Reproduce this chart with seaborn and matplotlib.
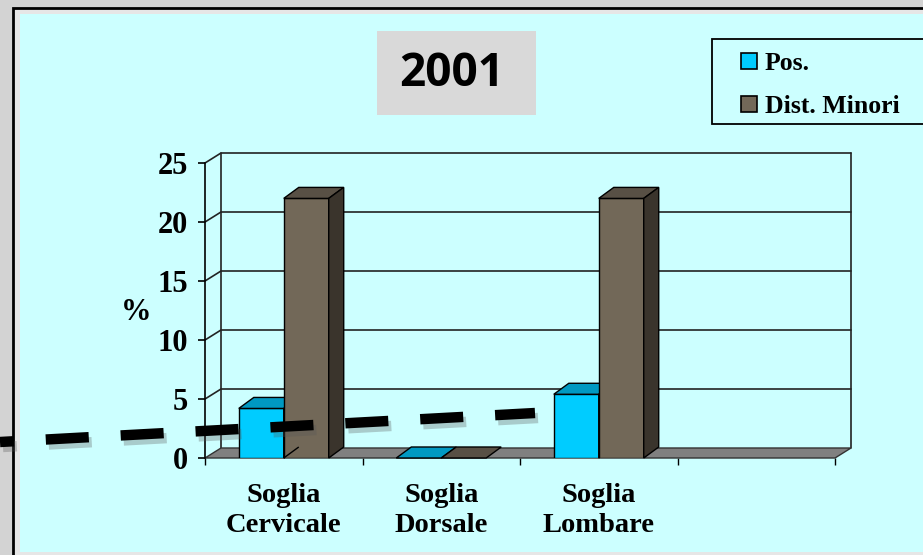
import matplotlib
matplotlib.use("Agg")
import matplotlib.pyplot as plt
from matplotlib.patches import Rectangle, Polygon
from matplotlib.lines import Line2D
from matplotlib.ticker import FixedLocator
import seaborn as sns
import pandas as pd

# ---------------- data ----------------
categories = ["Soglia\nCervicale", "Soglia\nDorsale", "Soglia\nLombare"]
series_names = ["Pos.", "Dist. Minori"]
pos_values = [4.2, 0.0, 5.4]
dist_values = [22.0, 0.0, 22.0]
y_ticks = [0, 5, 10, 15, 20, 25]
title_text = "2001"
y_label = "%"

# ---------------- style ----------------
sns.set_style("white")
plt.rcParams["font.family"] = ["Liberation Serif", "DejaVu Serif"]
plt.rcParams["lines.scale_dashes"] = False
for k in ("text.color", "axes.labelcolor", "xtick.color", "ytick.color"):
    plt.rcParams[k] = "black"

W, H = 923, 555
fig = plt.figure(figsize=(W / 100, H / 100), dpi=100)
fig.patch.set_facecolor("#d3d3d3")

def fx(px):
    return px / W

def fy(py):
    return 1 - py / H

# slide panel
fig.add_artist(Rectangle((fx(13), fy(560)), fx(930) - fx(13), fy(8) - fy(560),
                         transform=fig.transFigure, facecolor="#e6e6e6",
                         edgecolor="black", linewidth=2, zorder=0))
fig.add_artist(Rectangle((fx(20), fy(552)), fx(930) - fx(20), fy(14) - fy(552),
                         transform=fig.transFigure, facecolor="#CCFFFF",
                         edgecolor="none", zorder=0.5))

# title box
fig.add_artist(Rectangle((fx(377), fy(115)), fx(536) - fx(377), fy(31) - fy(115),
                         transform=fig.transFigure, facecolor="#D9D9D9",
                         edgecolor="none", zorder=1))
fig.text(fx(452), fy(74), title_text, ha="center", va="center", color="black",
         fontsize=33, fontweight="bold", family=["Open Sans", "DejaVu Sans"], zorder=2)

# legend box (frame drawn separately to reach the slide edge)
fig.add_artist(Rectangle((fx(712), fy(124)), fx(940) - fx(712), fy(39) - fy(124),
                         transform=fig.transFigure, facecolor="#CCFFFF",
                         edgecolor="black", linewidth=1.3, zorder=1))

# ---------------- axes ----------------
ax_left, ax_right, ax_bottom, ax_top = 205, 835, 458, 163
ax = fig.add_axes([fx(ax_left), fy(ax_bottom), fx(ax_right) - fx(ax_left),
                   fy(ax_top) - fy(ax_bottom)])
ax.set_zorder(3)
ax.patch.set_visible(False)

cyan, brown = "#00CCFF", "#726858"
df = pd.DataFrame({
    "cat": categories * 2,
    "val": pos_values + dist_values,
    "serie": [series_names[0]] * 3 + [series_names[1]] * 3,
})
sns.barplot(data=df, x="cat", y="val", hue="serie", hue_order=series_names,
            order=categories, palette=[cyan, brown], width=0.571,
            edgecolor="black", linewidth=1, saturation=1, ax=ax)
bars = list(ax.patches)

ax.set_xlim(-0.5, 3.5)
ax.set_ylim(0, 25)

px_per_x = (ax_right - ax_left) / 4.0
px_per_y = (ax_bottom - ax_top) / 25.0
# depth offsets (pixels -> data units)
DXw, DYw = 16 / px_per_x, 10 / px_per_y
DXb, DYb = 15 / px_per_x, 11 / px_per_y

# floor
ax.add_patch(Polygon([(-0.5, 0), (3.5, 0), (3.5 + DXw, DYw), (-0.5 + DXw, DYw)],
                     closed=True, facecolor="#808080", edgecolor="#333333",
                     linewidth=1, clip_on=False, zorder=1))
# back wall gridlines and side wall diagonals
for v in y_ticks:
    if v == 0:
        continue
    ax.add_line(Line2D([-0.5, -0.5 + DXw, 3.5 + DXw], [v, v + DYw, v + DYw],
                       color="#222222", linewidth=1.2, clip_on=False, zorder=0.8))
for xe in (-0.5 + DXw, 3.5 + DXw):
    ax.add_line(Line2D([xe, xe], [DYw, 25 + DYw], color="#222222",
                       linewidth=1.2, clip_on=False, zorder=0.8))

# 3D faces of bars
face_cols = {
    cyan: ("#0099C2", "#0083A8"),
    brown: ("#585045", "#3A342C"),
}
for b in bars:
    fc = b.get_facecolor()
    is_cyan = fc[2] > 0.9
    top_c, side_c = face_cols[cyan] if is_cyan else face_cols[brown]
    z = 3 if is_cyan else 4
    b.set_zorder(z)
    x0 = b.get_x()
    x1 = x0 + b.get_width()
    h = b.get_height()
    ax.add_patch(Polygon([(x0, h), (x1, h), (x1 + DXb, h + DYb), (x0 + DXb, h + DYb)],
                         closed=True, facecolor=top_c, edgecolor="black",
                         linewidth=1, clip_on=False, zorder=z + 0.1))
    if h > 0:
        ax.add_patch(Polygon([(x1, 0), (x1 + DXb, DYb), (x1 + DXb, h + DYb), (x1, h)],
                             closed=True, facecolor=side_c, edgecolor="black",
                             linewidth=1, clip_on=False, zorder=z + 0.1))

# spines / ticks
for s in ("top", "right", "bottom"):
    ax.spines[s].set_visible(False)
ax.spines["left"].set_color("black")
ax.spines["left"].set_linewidth(1.2)
ax.set_yticks(y_ticks)
ax.set_yticklabels([str(t) for t in y_ticks])
ax.tick_params(axis="y", left=True, length=5, width=1.2, color="black", pad=7,
               labelsize=22)
ax.set_xticks(range(len(categories)))
ax.set_xticklabels(categories, linespacing=1.25)
ax.xaxis.set_minor_locator(FixedLocator([-0.5, 0.5, 1.5, 2.5, 3.5]))
ax.tick_params(axis="x", which="major", length=0, pad=18, labelsize=20.5)
ax.tick_params(axis="x", which="minor", bottom=True, length=5, width=1, color="black")
for lab in ax.get_xticklabels() + ax.get_yticklabels():
    lab.set_fontweight("bold")
ax.set_xlabel("")
ax.set_ylabel(y_label, rotation=0, fontsize=22, fontweight="bold")
ax.yaxis.label.set_va("center")
ax.yaxis.label.set_ha("center")
ax.yaxis.set_label_coords((136 - ax_left) / (ax_right - ax_left),
                          (ax_bottom - 312) / (ax_bottom - ax_top))

# legend
handles, labels = ax.get_legend_handles_labels()
for hnd in handles:
    hnd.set_edgecolor("black")
    hnd.set_linewidth(1.2)
leg = ax.legend(handles, labels, loc="upper left",
                bbox_to_anchor=(fx(736), fy(47)), bbox_transform=fig.transFigure,
                frameon=False, prop={"weight": "bold", "size": 18.5},
                handlelength=0.62, handleheight=0.62, handletextpad=0.3,
                labelspacing=0.78, borderpad=0.2, borderaxespad=0)

# dashed annotation line across the figure
sx = [fx(0), fx(535)]
sy = [fy(442), fy(413)]
fig.add_artist(Line2D([fx(3), fx(538)], [fy(447), fy(418)], transform=fig.transFigure,
                      color="#555555", alpha=0.3, linewidth=7.5,
                      linestyle=(21, (31, 23)), dash_capstyle="butt", zorder=9))
fig.add_artist(Line2D(sx, sy, transform=fig.transFigure, color="black",
                      linewidth=7.5, linestyle=(21, (31, 23)),
                      dash_capstyle="butt", zorder=10))

fig.savefig("out.png", dpi=100, facecolor=fig.get_facecolor())
